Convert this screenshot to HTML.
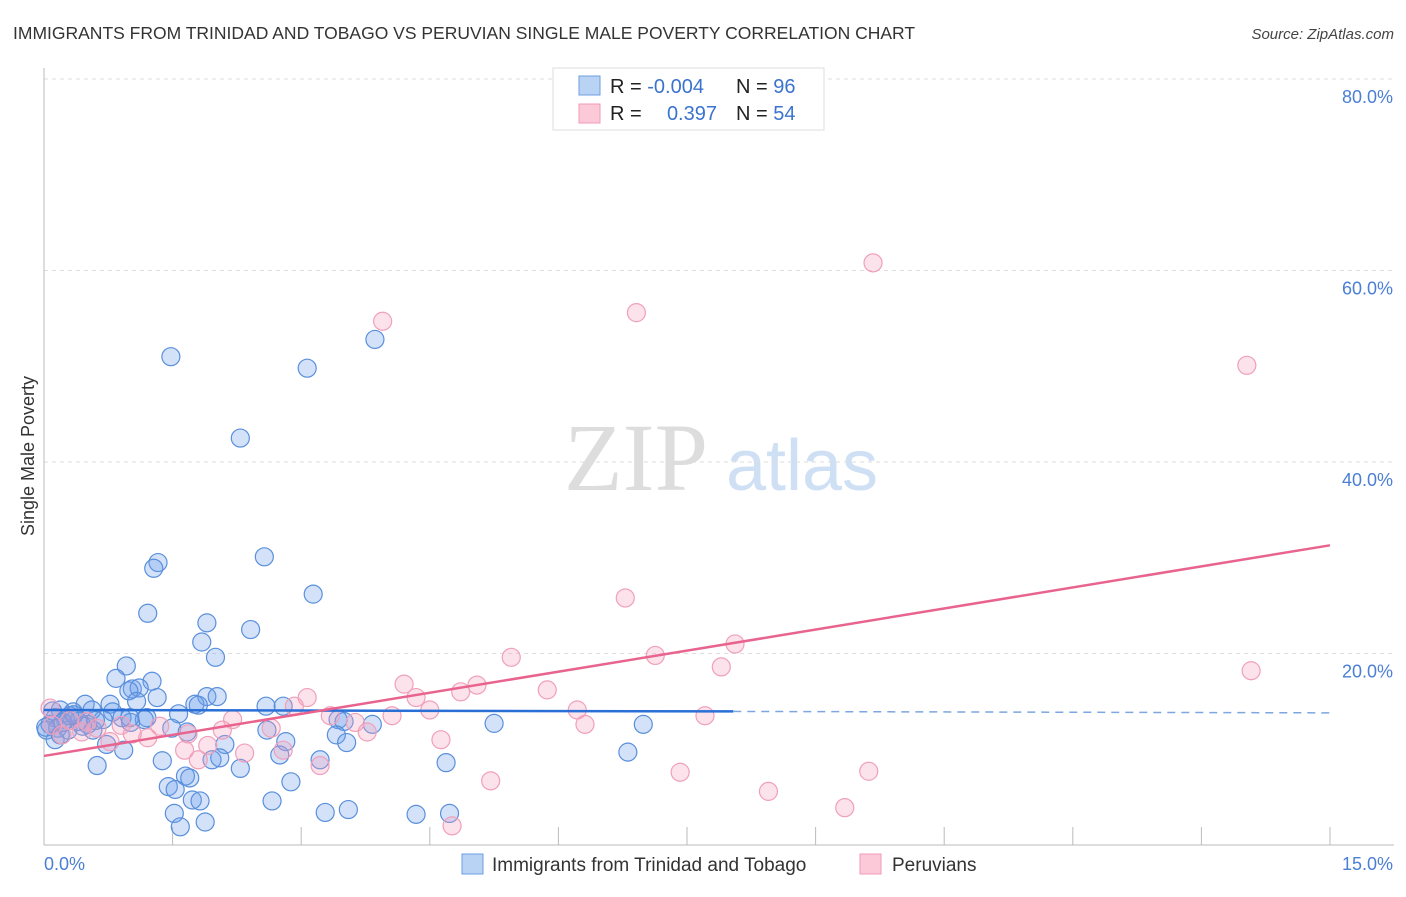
<!DOCTYPE html>
<html><head><meta charset="utf-8"><style>
body{margin:0;background:#fff;font-family:"Liberation Sans",sans-serif}
svg text{font-family:"Liberation Sans",sans-serif}
</style></head><body>
<svg id="chart" width="1406" height="892" xmlns="http://www.w3.org/2000/svg">
<text x="13" y="39" font-size="17.5" fill="#333">IMMIGRANTS FROM TRINIDAD AND TOBAGO VS PERUVIAN SINGLE MALE POVERTY CORRELATION CHART</text>
<text x="1394" y="39" font-size="15" fill="#444" text-anchor="end" font-style="italic">Source: ZipAtlas.com</text>
<g>
<text x="636" y="490" font-size="96" fill="#ddd" text-anchor="middle" font-family="Liberation Serif" style="font-family:'Liberation Serif',serif">ZIP</text>
<text x="802" y="490" font-size="72" fill="#cfe0f5" text-anchor="middle">atlas</text>
</g>
<g id="grid"></g>
<g id="axes"></g>
<g id="marks"></g>
<g id="trends"></g>
<text transform="translate(34,456) rotate(-90)" font-size="18" fill="#333" text-anchor="middle">Single Male Poverty</text>
<g>
<rect x="553" y="68" width="271" height="62" fill="#fff" stroke="#ddd"/>
<rect x="579" y="76" width="21" height="19" fill="#b9d3f5" stroke="#6e9ee0"/>
<rect x="579" y="104" width="21" height="19" fill="#fbc9d8" stroke="#f09ab5"/>
<text x="610" y="93" font-size="20" fill="#222">R = <tspan fill="#3b73cf">-0.004</tspan></text>
<text x="736" y="93" font-size="20" fill="#222">N = <tspan fill="#3b73cf">96</tspan></text>
<text x="610" y="120" font-size="20" fill="#222">R = </text>
<text x="717" y="120" font-size="20" fill="#3b73cf" text-anchor="end">0.397</text>
<text x="736" y="120" font-size="20" fill="#222">N = <tspan fill="#3b73cf">54</tspan></text>
</g>
<g>
<rect x="462" y="854" width="21" height="20" fill="#b9d3f5" stroke="#6e9ee0"/>
<text x="492" y="871" font-size="19" fill="#333">Immigrants from Trinidad and Tobago</text>
<rect x="860" y="854" width="21" height="20" fill="#fbc9d8" stroke="#f09ab5"/>
<text x="892" y="871" font-size="19" fill="#333">Peruvians</text>
</g>
</svg>
<script>
const yTicks=[20,40,60,80];
const yTickLabels=["20.0%","40.0%","60.0%","80.0%"];
const xTicks=[0,1.5,3,4.5,6,7.5,9,10.5,12,13.5,15];
const blueX=[1.48,3.07,3.86,2.29,2.57,1.33,1.28,3.14,1.21,1.90,2.41,1.84,2.0,0.96,0.84,1.26,1.03,1.11,0.99,1.32,1.90,2.02,1.76,1.80,0.77,1.08,2.59,2.79,0.48,0.56,0.19,0.34,0.80,1.57,0.13,0.25,0.91,1.20,1.17,0.69,1.01,0.51,0.07,0.03,0.16,0.28,0.57,1.00,1.49,1.67,2.60,3.43,3.50,3.83,5.25,6.99,3.41,3.53,2.82,2.11,0.73,0.93,2.75,3.22,1.96,2.05,1.38,0.62,2.29,4.69,6.81,1.65,1.70,2.88,1.45,1.53,1.73,1.82,2.66,1.52,3.28,3.55,4.34,4.73,1.59,1.88,0.13,0.19,0.02,0.40,0.30,0.10,0.60,0.45,0.22,0.35];
const blueY=[51.0,49.8,52.8,42.5,30.1,29.5,28.9,26.2,24.2,23.2,22.5,21.2,19.6,18.7,17.4,17.1,16.3,16.4,16.1,15.4,15.5,15.5,14.7,14.6,14.7,15.0,14.5,14.5,14.7,14.1,14.1,13.9,13.9,13.7,13.3,13.1,13.3,13.3,13.1,13.1,12.8,12.6,12.6,12.0,12.2,12.0,12.0,13.3,12.2,11.8,12.0,13.1,12.9,12.6,12.7,12.6,11.5,10.7,10.8,10.5,10.5,9.9,9.4,8.9,8.9,9.1,8.8,8.3,8.0,8.6,9.7,7.2,7.0,6.6,6.1,5.8,4.7,4.6,4.6,3.3,3.4,3.7,3.2,3.3,1.9,2.4,11.0,11.5,12.3,12.9,13.5,14.0,13.0,12.4,12.8,13.6];
const pinkX=[9.67,3.95,6.91,14.03,6.78,8.06,7.13,5.45,7.90,14.08,4.20,5.05,4.86,5.87,3.07,4.34,2.92,4.50,6.22,7.71,4.06,3.34,2.20,3.63,6.31,0.07,1.35,2.08,2.65,1.68,3.77,1.03,1.21,0.44,0.21,0.77,4.63,1.64,2.79,2.34,1.80,3.22,5.21,7.42,9.62,8.45,9.34,4.76,0.62,0.90,1.91,0.30,0.10,0.50];
const pinkY=[60.8,54.7,55.6,50.1,25.8,21.0,19.8,19.6,18.6,18.2,16.8,16.7,16.0,16.2,15.4,15.4,14.5,14.1,14.1,13.5,13.5,13.5,13.1,12.8,12.6,14.3,12.4,12.0,12.2,11.6,11.8,11.6,11.2,11.8,11.5,10.8,11.0,9.9,9.9,9.6,8.9,8.3,6.7,7.6,7.7,5.6,3.9,2.0,12.2,12.5,10.4,13.0,12.5,12.9];
const blueTrend=[[0,14.1],[8.04,13.95]];
const blueTrendDash=[[8.04,13.95],[15,13.8]];
const pinkTrend=[[0,9.3],[15,31.3]];
const NS="http://www.w3.org/2000/svg";
const xs=v=>44+v*(1286/15);
const ys=v=>845-v*(766/80);
function mk(tag,attrs,parent){const e=document.createElementNS(NS,tag);for(const k in attrs)e.setAttribute(k,attrs[k]);document.getElementById(parent).appendChild(e);return e;}
yTicks.forEach((t,i)=>{
 const g=mk('line',{x1:44,x2:1394,y1:ys(t),y2:ys(t),stroke:'#ddd','stroke-dasharray':'4,4'},'grid');
 
 
 const l=mk('text',{x:1393,y:ys(t)+24,'font-size':18,fill:'#4a7fd4','text-anchor':'end'},'axes');
 l.textContent=yTickLabels[i];
 
 
});
const tl=mk('line',{x1:44,x2:1394,y1:79,y2:79,stroke:'#ddd','stroke-dasharray':'4,4'},'grid');


const ax=mk('line',{x1:44,x2:1394,y1:845,y2:845,stroke:'#bbb'},'axes');


const ay=mk('line',{x1:44,x2:44,y1:68,y2:845,stroke:'#bbb'},'axes');


xTicks.forEach(t=>{const e=mk('line',{x1:xs(t),x2:xs(t),y1:827,y2:845,stroke:'#bbb'},'axes');
 
 });
const x0=mk('text',{x:44,y:870,'font-size':18,fill:'#4a7fd4'},'axes');x0.textContent='0.0%';


const x1=mk('text',{x:1393,y:870,'font-size':18,fill:'#4a7fd4','text-anchor':'end'},'axes');x1.textContent='15.0%';


blueX.forEach((v,i)=>{const c=mk('circle',{cx:xs(v),cy:ys(blueY[i]),r:9,fill:'rgba(110,160,235,0.3)',stroke:'#5a8fdc','stroke-width':1.2},'marks');
 
 });
pinkX.forEach((v,i)=>{const c=mk('circle',{cx:xs(v),cy:ys(pinkY[i]),r:9,fill:'rgba(245,160,190,0.3)',stroke:'#f0a0ba','stroke-width':1.2},'marks');
 
 });
const b=mk('line',{x1:xs(blueTrend[0][0]),y1:ys(blueTrend[0][1]),x2:xs(blueTrend[1][0]),y2:ys(blueTrend[1][1]),stroke:'#2a6fd6','stroke-width':2.5},'trends');


const bd=mk('line',{x1:xs(blueTrendDash[0][0]),y1:ys(blueTrendDash[0][1]),x2:xs(blueTrendDash[1][0]),y2:ys(blueTrendDash[1][1]),stroke:'#7ea6e0','stroke-width':1.5,'stroke-dasharray':'8,6'},'trends');


const p=mk('line',{x1:xs(pinkTrend[0][0]),y1:ys(pinkTrend[0][1]),x2:xs(pinkTrend[1][0]),y2:ys(pinkTrend[1][1]),stroke:'#e8648e','stroke-width':2.5},'trends');


</script>
</body></html>
